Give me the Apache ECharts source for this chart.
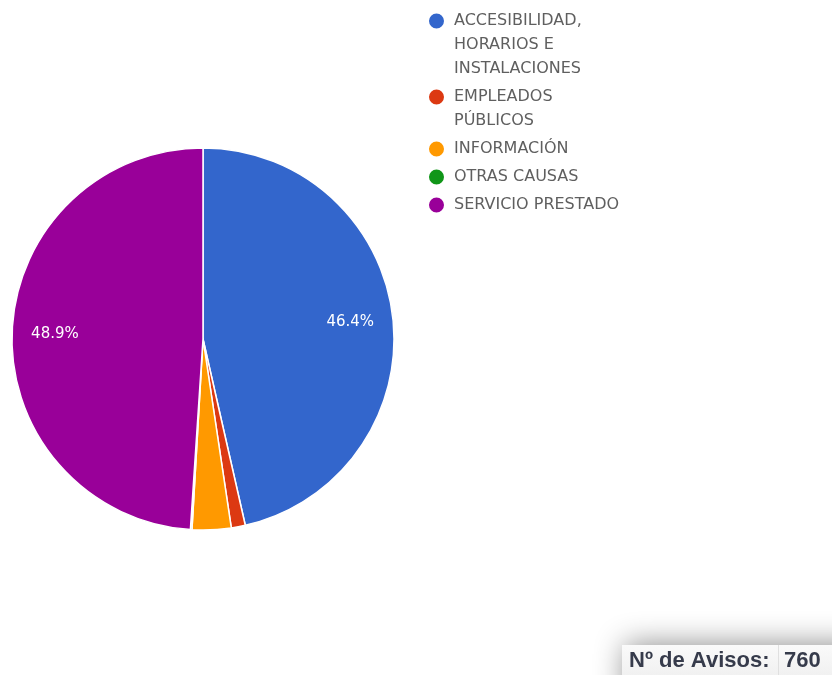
<!DOCTYPE html>
<html>
<head>
<meta charset="utf-8">
<script src="https://cdn.jsdelivr.net/npm/echarts@6/dist/echarts.min.js"></script>
<style>
  html, body { margin: 0; padding: 0; background: #ffffff; }
  #chart { width: 832px; height: 675px; }
</style>
</head>
<body>
<div id="chart"></div>
<script>
// Complaint categories and their counts
const categories = [
  'ACCESIBILIDAD, HORARIOS E INSTALACIONES',
  'EMPLEADOS PÚBLICOS',
  'INFORMACIÓN',
  'OTRAS CAUSAS',
  'SERVICIO PRESTADO'
];
const counts = [353, 9, 25, 1, 372];
const colors = ['#3366cc', '#dc3912', '#ff9900', '#109618', '#990099'];
// How each legend entry wraps onto lines
const legendLines = [
  ['ACCESIBILIDAD,', 'HORARIOS E', 'INSTALACIONES'],
  ['EMPLEADOS', 'PÚBLICOS'],
  ['INFORMACIÓN'],
  ['OTRAS CAUSAS'],
  ['SERVICIO PRESTADO']
];
const totalLabel = 'Nº de Avisos:';
const total = counts.reduce((a, b) => a + b, 0);

const data = categories.map((name, i) => ({
  name: name,
  value: counts[i],
  itemStyle: { color: colors[i] }
}));

// One legend block per entry so that each marker sits beside the first
// line of its wrapped text: blank lines above the text keep the block
// symmetric around the first line, where the marker is centred.
const LINE_H = 24;
const ENTRY_GAP = 4;
const ICON = 17;
const legends = [];
let firstLineTop = 9;
categories.forEach((name, i) => {
  const lines = legendLines[i];
  const extra = lines.length - 1;
  legends.push({
    orient: 'vertical',
    left: 427,
    top: firstLineTop - extra * LINE_H,
    padding: 0,
    icon: 'circle',
    itemWidth: ICON,
    itemHeight: ICON,
    selectedMode: false,
    data: [name],
    formatter: () => '\n'.repeat(extra) + lines.join('\n'),
    textStyle: {
      fontFamily: 'DejaVu Sans',
      fontSize: 16,
      color: '#5f5f5f',
      lineHeight: LINE_H,
      padding: [0, 0, 0, 4]
    }
  });
  firstLineTop += lines.length * LINE_H + ENTRY_GAP;
});

const chart = echarts.init(document.getElementById('chart'));
const center = [203, 339];
const outerR = 191;

const pct = v => (v / total * 100).toFixed(1) + '%';

chart.setOption({
  animation: false,
  legend: legends,
  graphic: [
    {
      type: 'rect',
      silent: true,
      shape: { x: 625, y: 652, width: 240, height: 60 },
      style: { fill: '#ffffff', shadowBlur: 30, shadowOffsetY: -8, shadowColor: 'rgba(0,0,0,0.45)' },
      z: 10
    },
    {
      type: 'rect',
      silent: true,
      shape: { x: 622, y: 645, width: 220, height: 40 },
      style: {
        fill: new echarts.graphic.LinearGradient(0, 0, 0, 1, [
          { offset: 0, color: '#fafafa' },
          { offset: 1, color: '#eeeeee' }
        ])
      },
      z: 11
    },
    {
      type: 'line',
      silent: true,
      shape: { x1: 778.5, y1: 645, x2: 778.5, y2: 675 },
      style: { stroke: '#e0e0e0', lineWidth: 1 },
      z: 12
    },
    {
      type: 'text',
      silent: true,
      style: {
        x: 629, y: 661, text: totalLabel,
        font: 'bold 22px "Liberation Sans", Arial, sans-serif',
        fill: '#363b4b', verticalAlign: 'middle'
      },
      z: 12
    },
    {
      type: 'text',
      silent: true,
      style: {
        x: 784, y: 661, text: String(total),
        font: 'bold 22px "Liberation Sans", Arial, sans-serif',
        fill: '#363b4b', verticalAlign: 'middle'
      },
      z: 12
    }
  ],
  series: [
    {
      type: 'pie',
      center: center,
      radius: [0, outerR],
      startAngle: 90,
      clockwise: true,
      avoidLabelOverlap: false,
      silent: true,
      itemStyle: { borderColor: '#ffffff', borderWidth: 1.5 },
      label: { show: false },
      labelLine: { show: false },
      data: data
    },
    {
      // transparent ring that only carries the percentage labels
      type: 'pie',
      center: center,
      radius: [outerR * 0.52, outerR],
      startAngle: 90,
      clockwise: true,
      avoidLabelOverlap: false,
      silent: true,
      legendHoverLink: false,
      itemStyle: { color: 'transparent', borderWidth: 0 },
      label: {
        show: true,
        position: 'inside',
        fontFamily: 'DejaVu Sans',
        fontSize: 15,
        color: '#ffffff',
        formatter: p => p.value / total >= 0.05 ? pct(p.value) : ''
      },
      labelLine: { show: false },
      data: categories.map((name, i) => ({ name: name, value: counts[i] }))
    }
  ]
});
</script>
</body>
</html>
